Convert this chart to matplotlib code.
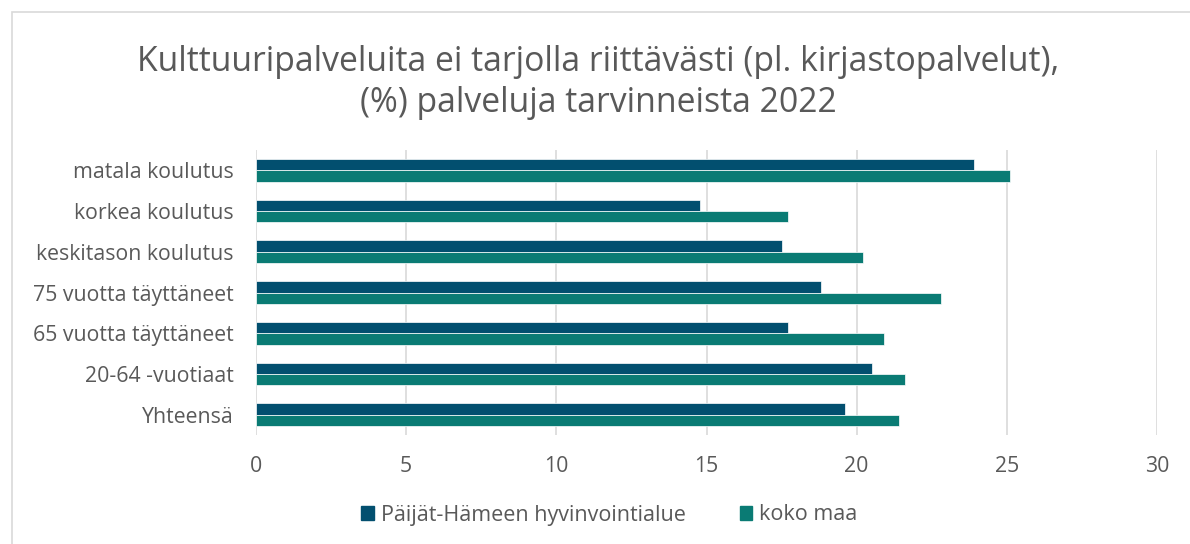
import matplotlib.pyplot as plt
import matplotlib.patches as mpatches
import numpy as np

plt.rcParams['font.family'] = ['Open Sans', 'DejaVu Sans']

# data, top to bottom as in the chart
categories = ['matala koulutus', 'korkea koulutus', 'keskitason koulutus',
              '75 vuotta täyttäneet', '65 vuotta täyttäneet', '20-64 -vuotiaat', 'Yhteensä']
phhva = [23.9, 14.8, 17.5, 18.8, 17.7, 20.5, 19.6]
koko_maa = [25.1, 17.7, 20.2, 22.8, 20.9, 21.6, 21.4]
series_names = ['Päijät-Hämeen hyvinvointialue', 'koko maa']

dark = '#024F6F'
teal = '#0A7B74'
txt = '#595959'

fig = plt.figure(figsize=(11.9, 5.44), dpi=100)
ax = fig.add_axes([256 / 1190, 1 - 435 / 544, 901 / 1190, 285 / 544])

y = np.arange(len(categories))[::-1]
h = 0.28
ax.barh(y + h / 2, phhva, height=h, color=dark, edgecolor='white', linewidth=0.5,
        label=series_names[0], zorder=3)
ax.barh(y - h / 2, koko_maa, height=h, color=teal, edgecolor='white', linewidth=0.5,
        label=series_names[1], zorder=3)

ax.set_xlim(0, 30)
ax.set_ylim(-0.5, len(categories) - 0.5)
ax.set_xticks(np.arange(0, 31, 5))
ax.set_yticks(y)
ax.set_yticklabels(categories)
ax.tick_params(length=0, labelsize=15.3, colors=txt)
ax.tick_params(axis='x', pad=15)
ax.tick_params(axis='y', pad=16)
ax.grid(axis='x', color='#d9d9d9', linewidth=1.2, zorder=0)
for s in ax.spines.values():
    s.set_visible(False)

fig.text(0.503, 0.849, 'Kulttuuripalveluita ei tarjolla riittävästi (pl. kirjastopalvelut),\n(%) palveluja tarvinneista 2022',
         ha='center', va='center', fontsize=24.3, color=txt, linespacing=1.26)

handles = [mpatches.Patch(color=dark, label=series_names[0]),
           mpatches.Patch(color=teal, label=series_names[1])]
fig.legend(handles=handles, loc='center', bbox_to_anchor=(0.512, 1 - 515 / 544), ncol=2,
           frameon=False, fontsize=15.5, labelcolor=txt, handlelength=0.6, handleheight=0.6,
           handletextpad=0.3, columnspacing=2.5)

# chart border (cropped at right and bottom)
fig.patches.append(mpatches.Rectangle((12 / 1190, -0.1), 1.2, 1 - 12 / 544 + 0.1,
                                      transform=fig.transFigure, fill=False,
                                      edgecolor='#d9d9d9', linewidth=1.2))

fig.savefig('out.png', dpi=100, facecolor='white')
